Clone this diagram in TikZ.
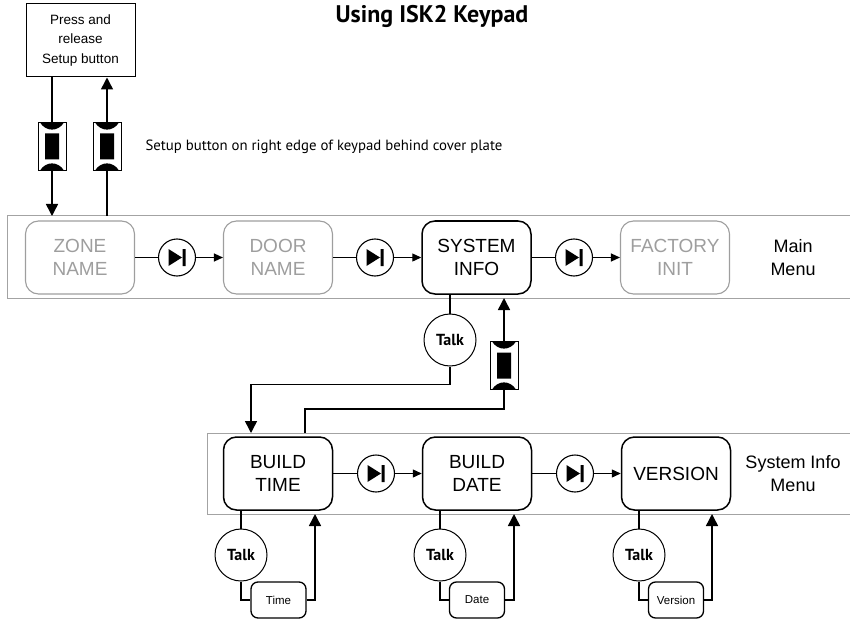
\documentclass[tikz,border=0pt]{standalone}
\usepackage{fontspec}
\setmainfont{Liberation Sans}
\newfontfamily\humsans{PT Sans}
\usetikzlibrary{arrows.meta}

\definecolor{dimgrey}{gray}{0.62}
\definecolor{framegrey}{gray}{0.64}

\tikzset{
  menu/.style={draw, rounded corners=13pt, line width=1.5pt, minimum width=109pt,
    minimum height=73pt, inner sep=0pt, align=center, font=\fontsize{19}{23}\selectfont},
  offmenu/.style={menu, draw=dimgrey, text=dimgrey, line width=1.1pt},
  menulabel/.style={align=center, font=\fontsize{18}{23}\selectfont},
  diode/.style={draw, circle, line width=1.1pt, minimum size=37pt, inner sep=0pt,
    path picture={\fill[black, shift={(path picture bounding box.center)}]
      (-8.5,-8.5) -- (5,0) -- (-8.5,8.5) -- cycle (5.5,-8.5) rectangle (8.5,8.5);}},
  talk/.style={draw, circle, line width=1pt, minimum size=52pt, inner sep=0pt,
    font=\humsans\bfseries\fontsize{16}{16}\selectfont},
  swbtn/.style={draw, fill=white, line width=0.8pt, minimum width=28pt, minimum height=48pt,
    inner sep=0pt,
    path picture={\fill[black, shift={(path picture bounding box.center)}]
      (-12,-24) .. controls (-6,-14.5) and (6,-14.5) .. (12,-24) -- cycle
      (-12,24) .. controls (-6,14.5) and (6,14.5) .. (12,24) -- cycle
      (-7,-13) rectangle (7,13);}},
  readout/.style={draw, rounded corners=7pt, line width=1.3pt, minimum width=55pt,
    minimum height=36pt, inner sep=0pt, font=\fontsize{11.5}{11.5}\selectfont},
  link/.style={line width=1.5pt},
  bigtip/.style={link, -{Triangle[length=12pt,width=12pt]}},
  smalltip/.style={line width=1.3pt, -{Triangle[length=9pt,width=8pt]}},
  frameline/.style={draw=framegrey, line width=1pt}
}

\begin{document}
\begin{tikzpicture}[x=1pt,y=-1pt]
\useasboundingbox (0,0) rectangle (850,620);

\node (title) at (432,16) {\humsans\bfseries\fontsize{24}{24}\selectfont Using ISK2 Keypad};

\node[draw, line width=1pt, minimum width=109pt, minimum height=73pt, inner sep=0pt,
  align=center, font=\fontsize{13.5}{19.5}\selectfont] (press) at (80.5,40.5)
  {Press and\\release\\Setup button};

\node[swbtn] (btnL) at (52,146.5) {};
\node[swbtn] (btnR) at (107,146.5) {};
\node[anchor=west, font=\humsans\fontsize{14.8}{16}\selectfont] (note) at (142,147)
  {Setup button on right edge of keypad behind cover plate};

% main menu
\coordinate (mainTL) at (7,216);
\coordinate (mainBL) at (7,298);
\coordinate (mainTR) at (850,216);
\coordinate (mainBR) at (850,298);
\draw[frameline] (mainTR) -- (mainTL) -- (mainBL) -- (mainBR);

\node[offmenu] (zone) at (80,257.5) {ZONE\\NAME};
\node[diode] (d1) at (177,257.5) {};
\node[offmenu] (door) at (278,257.5) {DOOR\\NAME};
\node[diode] (d2) at (375,257.5) {};
\node[menu] (sysinfo) at (476.5,257.5) {SYSTEM\\INFO};
\node[diode] (d3) at (574,257.5) {};
\node[offmenu] (factory) at (675,257.5) {FACTORY\\INIT};
\node[menulabel] (mainlbl) at (793,257.5) {Main\\Menu};

\draw[link] (zone) -- (d1);
\draw[smalltip] (d1) -- (door);
\draw[link] (door) -- (d2);
\draw[smalltip] (d2) -- (sysinfo);
\draw[link] (sysinfo) -- (d3);
\draw[smalltip] (d3) -- (factory);

\draw[link] (press.south -| btnL) -- (btnL);
\draw[bigtip] (btnL) -- (btnL |- mainTL);
\draw[link] (btnR |- mainTL) -- (btnR);
\draw[bigtip] (btnR) -- (btnR |- press.south);

% system info menu
\coordinate (sysTL) at (207,433);
\coordinate (sysBL) at (207,514);
\coordinate (sysTR) at (850,433);
\coordinate (sysBR) at (850,514);
\draw[frameline] (sysTR) -- (sysTL) -- (sysBL) -- (sysBR);

\node[menu] (btime) at (278,473.5) {BUILD\\TIME};
\node[diode] (d4) at (376,473.5) {};
\node[menu] (bdate) at (477,473.5) {BUILD\\DATE};
\node[diode] (d5) at (575,473.5) {};
\node[menu] (version) at (676,473.5) {VERSION};
\node[menulabel] (syslbl) at (793,473.5) {System Info\\Menu};

\draw[link] (btime) -- (d4);
\draw[smalltip] (d4) -- (bdate);
\draw[link] (bdate) -- (d5);
\draw[smalltip] (d5) -- (version);

\node[talk] (talk0) at (450,340) {Talk};
\node[swbtn] (btnM) at (504,365.5) {};
\coordinate (dropA) at (251,433);
\coordinate (riseA) at (305,433);

\draw[link] (sysinfo.south -| talk0) -- (talk0);
\draw[bigtip] (talk0.south) -- ++(0,18) -| (dropA);
\draw[link] (riseA) -- ++(0,-24) -| (btnM);
\draw[bigtip] (btnM) -- (btnM |- mainBL);

% readouts
\node[talk] (talk1) at (241,555) {Talk};
\node[readout] (rtime) at (278.5,600) {Time};
\coordinate (up1) at (315,514);
\node[talk] (talk2) at (440,555) {Talk};
\node[readout] (rdate) at (477,600) {Date};
\coordinate (up2) at (514,514);
\node[talk] (talk3) at (639,555) {Talk};
\node[readout] (rversion) at (676,600) {Version};
\coordinate (up3) at (712,514);

\draw[link] (btime.south -| talk1) -- (talk1);
\draw[link] (talk1) |- (rtime);
\draw[bigtip] (rtime) -| (up1);
\draw[link] (bdate.south -| talk2) -- (talk2);
\draw[link] (talk2) |- (rdate);
\draw[bigtip] (rdate) -| (up2);
\draw[link] (version.south -| talk3) -- (talk3);
\draw[link] (talk3) |- (rversion);
\draw[bigtip] (rversion) -| (up3);

\end{tikzpicture}
\end{document}
